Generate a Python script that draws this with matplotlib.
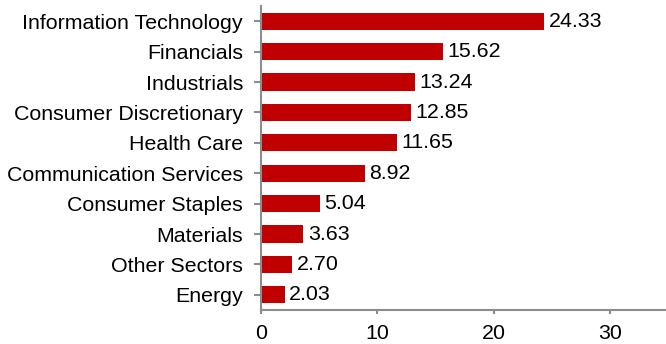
import matplotlib.pyplot as plt

plt.rcParams['font.family'] = ['Liberation Sans', 'DejaVu Sans']

sectors = ['Information Technology', 'Financials', 'Industrials', 'Consumer Discretionary',
           'Health Care', 'Communication Services', 'Consumer Staples', 'Materials',
           'Other Sectors', 'Energy']
weights = [24.33, 15.62, 13.24, 12.85, 11.65, 8.92, 5.04, 3.63, 2.70, 2.03]
xticks = [0, 10, 20, 30]

fig = plt.figure(figsize=(6.66, 3.44), dpi=100)
ax = fig.add_axes([261 / 666, 34 / 344, 405 / 666, 304 / 344])

pos = list(range(len(sectors)))
ax.barh(pos, weights, height=0.56, color='#C00000')
for p, w in zip(pos, weights):
    ax.text(w + 0.4, p, f'{w:.2f}', va='center', ha='left', fontsize=15.4, color='#000000')

ax.set_ylim(len(sectors) - 0.5, -0.5)
ax.set_xlim(0, 34.8)
ax.set_yticks(pos)
ax.set_yticklabels(sectors, fontsize=15.4)
ax.set_xticks(xticks)
ax.set_xticklabels([str(t) for t in xticks], fontsize=15.4)

for side in ['top', 'right']:
    ax.spines[side].set_visible(False)
for side in ['left', 'bottom']:
    ax.spines[side].set_color('#8C8C8C')
    ax.spines[side].set_linewidth(1.5)
ax.tick_params(axis='both', colors='#8C8C8C', labelcolor='#000000', width=1.5)
ax.tick_params(axis='y', length=5, pad=8)
ax.tick_params(axis='x', length=3, pad=7)

fig.savefig('out.png', dpi=100)
